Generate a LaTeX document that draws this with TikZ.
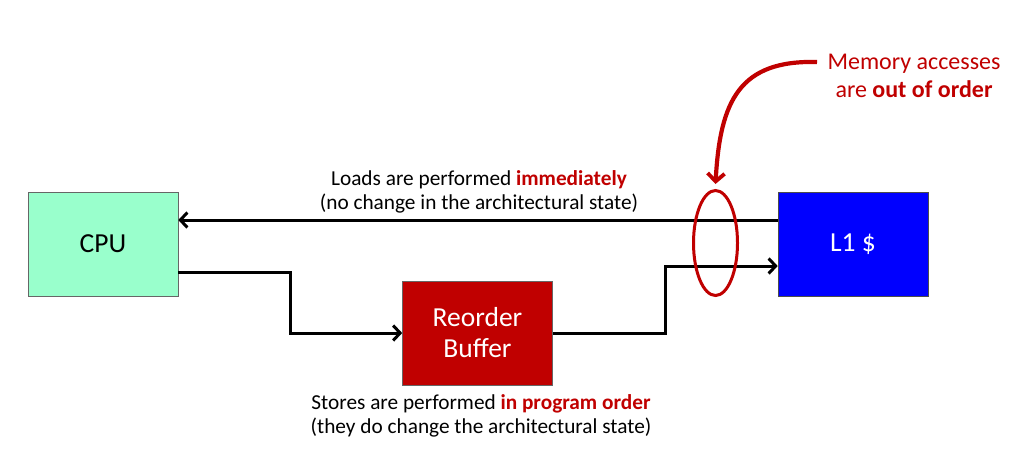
\documentclass[tikz,border=0pt]{standalone}
\usepackage{fontspec}
\setmainfont{Carlito}
\usetikzlibrary{arrows.meta,shapes.geometric}
\definecolor{mint}{HTML}{99FFCC}
\definecolor{darkred}{HTML}{C00000}
\tikzset{
  unit/.style={draw=black!60,line width=0.6pt,minimum width=150pt,minimum height=104pt,
    font=\fontsize{27.5}{31}\selectfont,align=center,inner sep=0pt},
  wire/.style={line width=3pt,-{Straight Barb[length=7pt,width=15pt,line width=3pt]}},
  note/.style={font=\fontsize{21.3}{24}\selectfont,align=center}
}
\begin{document}
\begin{tikzpicture}[x=1pt,y=-1pt,line join=miter]
\useasboundingbox (0,0) rectangle (1024,469);
% Units
\node[unit,fill=mint] (cpu) at (103,244) {CPU};
\node[unit,fill=blue,text=white,draw=black!70] (l1) at (853,244) {L1 \$};
\node[unit,fill=darkred,text=white] (rob) at (477.5,333) {Reorder\\Buffer};

% Loads
\draw[wire] ([yshift=24pt]l1.west) -- ([yshift=24pt]cpu.east);
\node[note] (loads) at (479,192) {Loads are performed \textcolor{darkred}{\textbf{immediately}}\\(no change in the architectural state)};

% Stores
\draw[wire] ([yshift=-28pt]cpu.east) -| (290,300) |- (rob.west);
\draw[wire] (rob.east) -| (665,300) |- ([yshift=-22pt]l1.west);
\node[note] (stores) at (481,416) {Stores are performed \textcolor{darkred}{\textbf{in program order}}\\(they do change the architectural state)};

% Out of order
\node[draw=darkred,line width=3pt,ellipse,minimum width=44pt,minimum height=105pt,inner sep=0pt] (ooo) at (715.5,243) {};
\node[note,text=darkred,font=\fontsize{24}{28}\selectfont] (mem) at (914,76) {Memory accesses\\are \textbf{out of order}};
\draw[darkred,line width=4.2pt,-{Straight Barb[length=8pt,width=17pt,line width=3.8pt]}]
  (817,62) .. controls (740,60) and (720,100) .. ([yshift=5pt]ooo.north);
\end{tikzpicture}
\end{document}
